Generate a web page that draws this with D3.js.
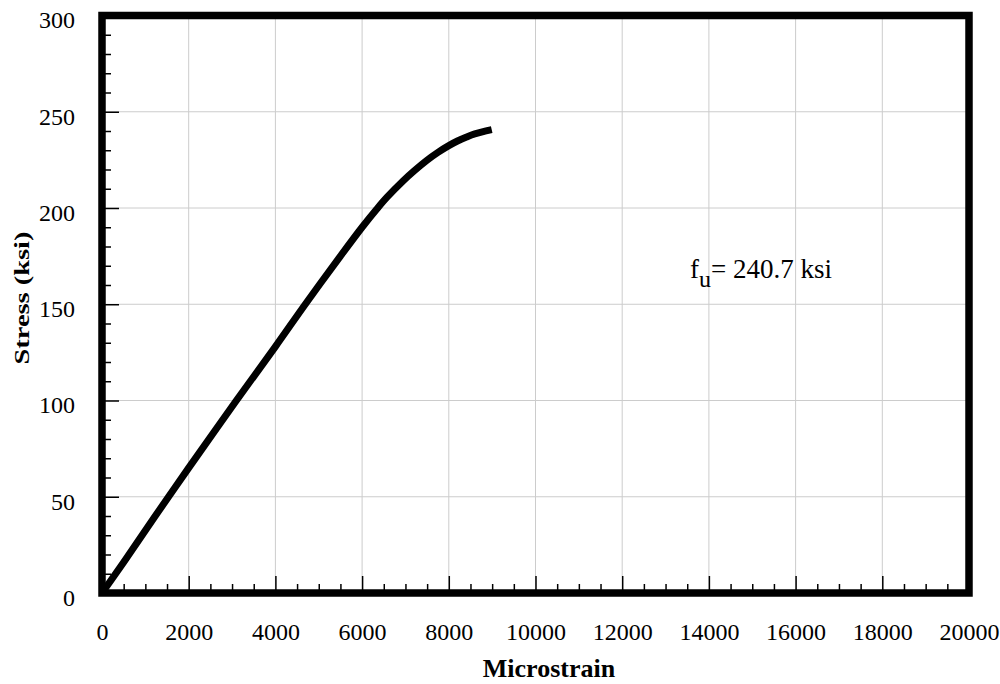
<!DOCTYPE html>
<html>
<head>
<meta charset="utf-8">
<script src="https://cdn.jsdelivr.net/npm/d3@7"></script>
<style>
  body { margin: 0; background: #fff; }
  text { font-family: "Liberation Serif", "Times New Roman", serif; fill: #000; }
</style>
</head>
<body>
<div id="chart"></div>
<script>
// strain (microstrain) and stress (ksi)
const strain = [0, 500, 1000, 1520, 2000, 3100, 4000, 4690, 5500, 6000, 6340, 6570, 6950, 7200, 7490, 7750, 8000, 8200, 8410, 8600, 8990];
const stress = [0, 16, 32.5, 49.5, 65, 100, 128, 150, 175, 190, 199.5, 205.5, 214.2, 219.3, 224.7, 228.9, 232.4, 234.8, 236.9, 238.5, 240.7];

const xTicks = [0, 2000, 4000, 6000, 8000, 10000, 12000, 14000, 16000, 18000, 20000];
const yTicks = [0, 50, 100, 150, 200, 250, 300];

const width = 1000, height = 684;

const svg = d3.select('#chart')
    .append('svg')
    .attr('width', width)
    .attr('height', height);

const x = d3.scaleLinear().domain([0, 20000]).range([102, 969]);
const y = d3.scaleLinear().domain([0, 300]).range([593, 15.5]);

// grid
svg.append('g')
    .selectAll('line')
    .data(xTicks.slice(1))
    .enter()
    .append('line')
    .attr('x1', d => x(d)).attr('x2', d => x(d))
    .attr('y1', y(300)).attr('y2', y(0))
    .attr('stroke', '#cccccc')
    .attr('stroke-width', 1);

svg.append('g')
    .selectAll('line')
    .data(yTicks.slice(1))
    .enter()
    .append('line')
    .attr('x1', x(0)).attr('x2', x(20000))
    .attr('y1', d => y(d)).attr('y2', d => y(d))
    .attr('stroke', '#cccccc')
    .attr('stroke-width', 1);

// minor + major ticks pointing inward
const xMinor = d3.range(0, 20001, 500).filter(d => d % 2000 !== 0);
const yMinor = d3.range(0, 301, 10).filter(d => d % 50 !== 0);

const tickStyle = g => g.call(s => s.select('.domain').remove())
    .selectAll('line').attr('stroke', '#000').attr('stroke-width', 1.5);

svg.append('g')
    .attr('transform', `translate(0,${y(0)})`)
    .call(d3.axisBottom(x).tickValues(xMinor).tickSize(-9).tickFormat(''))
    .call(tickStyle);
svg.append('g')
    .attr('transform', `translate(0,${y(0)})`)
    .call(d3.axisBottom(x).tickValues(xTicks).tickSize(-17).tickFormat(''))
    .call(tickStyle);
svg.append('g')
    .attr('transform', `translate(${x(0)},0)`)
    .call(d3.axisLeft(y).tickValues(yMinor).tickSize(-9).tickFormat(''))
    .call(tickStyle);
svg.append('g')
    .attr('transform', `translate(${x(0)},0)`)
    .call(d3.axisLeft(y).tickValues(yTicks).tickSize(-17).tickFormat(''))
    .call(tickStyle);

// tick labels
const xAxis = svg.append('g')
    .attr('transform', `translate(0,${y(0)})`)
    .call(d3.axisBottom(x).tickValues(xTicks).tickSize(0).tickPadding(30).tickFormat(d3.format('d')));
xAxis.select('.domain').remove();
xAxis.selectAll('text').style('font-size', '24px').attr('fill', '#000');

const yAxis = svg.append('g')
    .attr('transform', `translate(${x(0)},0)`)
    .call(d3.axisLeft(y).tickValues(yTicks).tickSize(0).tickPadding(27));
yAxis.select('.domain').remove();
yAxis.selectAll('text').style('font-size', '24px').attr('dy', '0.52em').attr('fill', '#000');

// frame
svg.append('rect')
    .attr('x', x(0)).attr('y', y(300))
    .attr('width', x(20000) - x(0))
    .attr('height', y(0) - y(300))
    .attr('fill', 'none')
    .attr('stroke', '#000')
    .attr('stroke-width', 7.5);

// curve
const data = strain.map((s, i) => ({ s: s, f: stress[i] }));
const line = d3.line()
    .x(d => x(d.s))
    .y(d => y(d.f))
    .curve(d3.curveCatmullRom);

svg.append('path')
    .datum(data)
    .attr('d', line)
    .attr('fill', 'none')
    .attr('stroke', '#000')
    .attr('stroke-width', 7);

// annotation
const note = svg.append('text')
    .attr('x', 690)
    .attr('y', 278)
    .style('font-size', '27px');
note.append('tspan').text('f');
note.append('tspan').attr('dy', 9).style('font-size', '24px').text('u');
note.append('tspan').attr('dy', -9).text('= 240.7 ksi');

// axis titles
svg.append('text')
    .attr('x', 549)
    .attr('y', 677)
    .style('text-anchor', 'middle')
    .style('font-size', '26px')
    .style('font-weight', 'bold')
    .text('Microstrain');

svg.append('text')
    .attr('transform', 'rotate(-90)')
    .attr('x', -298)
    .attr('y', 29)
    .style('text-anchor', 'middle')
    .style('font-size', '22px')
    .style('font-weight', 'bold')
    .attr('textLength', 133)
    .attr('lengthAdjust', 'spacingAndGlyphs')
    .text('Stress (ksi)');
</script>
</body>
</html>
